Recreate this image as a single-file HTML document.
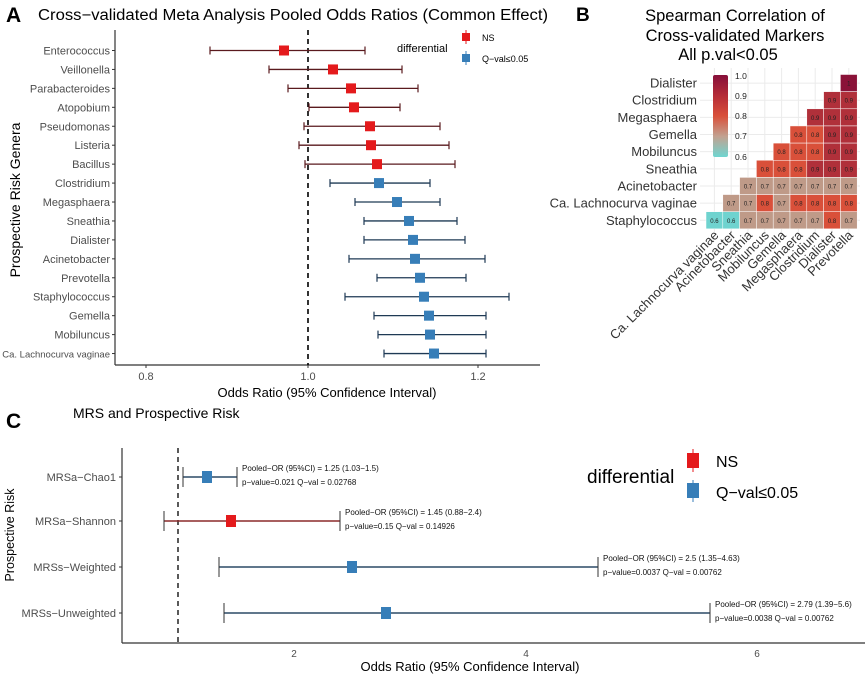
<!DOCTYPE html>
<html><head><meta charset="utf-8"><style>
body{margin:0;background:#fff}
svg{display:block;font-family:"Liberation Sans",Arial,sans-serif}
</style></head><body>
<svg width="865" height="677" viewBox="0 0 865 677" xmlns="http://www.w3.org/2000/svg">
<rect width="865" height="677" fill="#fff"/>
<!-- Panel A -->
<text x="6" y="22" font-size="21" font-weight="bold">A</text>
<text x="38" y="20" font-size="15.5" textLength="510" lengthAdjust="spacingAndGlyphs">Cross−validated Meta Analysis Pooled Odds Ratios (Common Effect)</text>
<text transform="translate(20,200) rotate(-90)" text-anchor="middle" font-size="14">Prospective Risk Genera</text>
<line x1="115" y1="30" x2="115" y2="365" stroke="#333" stroke-width="1.2"/>
<line x1="115" y1="365" x2="540" y2="365" stroke="#333" stroke-width="1.2"/>
<line x1="308" y1="30" x2="308" y2="365" stroke="#000" stroke-width="1.6" stroke-dasharray="5,4"/>
<g font-size="11" fill="#4d4d4d" text-anchor="middle">
<text x="146" y="380">0.8</text><text x="308" y="380">1.0</text><text x="478" y="380">1.2</text>
</g>
<line x1="146" y1="365" x2="146" y2="368" stroke="#333"/><line x1="308" y1="365" x2="308" y2="368" stroke="#333"/><line x1="478" y1="365" x2="478" y2="368" stroke="#333"/>
<text x="327" y="397" text-anchor="middle" font-size="13">Odds Ratio (95% Confidence Interval)</text>
<g id="rowsA"></g>
<!-- legend A -->
<text x="397" y="52" font-size="11">differential</text>
<line x1="466" y1="30" x2="466" y2="44" stroke="#e41a1c"/><rect x="462" y="33" width="8" height="8" fill="#e41a1c"/>
<text x="482" y="41" font-size="9">NS</text>
<line x1="466" y1="51" x2="466" y2="65" stroke="#377eb8"/><rect x="462" y="54" width="8" height="8" fill="#377eb8"/>
<text x="482" y="62" font-size="9">Q−val≤0.05</text>

<!-- Panel B -->
<text x="576" y="21" font-size="19" font-weight="bold">B</text>
<g font-size="16.5" text-anchor="middle"><text x="735" y="21">Spearman Correlation of</text><text x="735" y="41">Cross-validated Markers</text><text x="728" y="60">All p.val&lt;0.05</text></g>
<g id="heat"></g>
<defs><linearGradient id="cb" x1="0" y1="1" x2="0" y2="0">
<stop offset="0" stop-color="#6fd6d1"/><stop offset="0.25" stop-color="#c2a291"/><stop offset="0.5" stop-color="#d9503a"/><stop offset="0.75" stop-color="#b52c38"/><stop offset="1" stop-color="#860f3a"/></linearGradient></defs>
<rect x="713" y="75" width="15" height="82" rx="2" fill="url(#cb)"/>
<g font-size="8.5" fill="#222"><text x="735" y="79">1.0</text><text x="735" y="99">0.9</text><text x="735" y="119">0.8</text><text x="735" y="139">0.7</text><text x="735" y="160">0.6</text></g>

<!-- Panel C -->
<text x="6" y="428" font-size="21" font-weight="bold">C</text>
<text x="73" y="418" font-size="14">MRS and Prospective Risk</text>
<text transform="translate(14,535) rotate(-90)" text-anchor="middle" font-size="12.5">Prospective Risk</text>
<line x1="122" y1="448" x2="122" y2="643" stroke="#333" stroke-width="1.2"/>
<line x1="122" y1="643" x2="865" y2="643" stroke="#333" stroke-width="1.2"/>
<line x1="178" y1="448" x2="178" y2="643" stroke="#000" stroke-width="1.3" stroke-dasharray="5,4"/>
<g font-size="10" fill="#4d4d4d" text-anchor="middle"><text x="294" y="657">2</text><text x="526" y="657">4</text><text x="757" y="657">6</text></g>
<text x="470" y="671" text-anchor="middle" font-size="13">Odds Ratio (95% Confidence Interval)</text>
<g id="rowsC"></g>
<text x="587" y="483" font-size="19">differential</text>
<line x1="693" y1="449" x2="693" y2="472" stroke="#e41a1c"/><rect x="687" y="453" width="12" height="15" fill="#e41a1c"/>
<text x="716" y="467" font-size="16">NS</text>
<line x1="693" y1="480" x2="693" y2="502" stroke="#377eb8"/><rect x="687" y="483" width="12" height="15" fill="#377eb8"/>
<text x="716" y="498" font-size="16">Q−val≤0.05</text>
</svg>
<script>
const NS="http://www.w3.org/2000/svg";
function el(p,t,a,txt){const e=document.createElementNS(NS,t);for(const k in a)e.setAttribute(k,a[k]);if(txt!==undefined)e.textContent=txt;p.appendChild(e);return e;}
const A=[["Enterococcus",210,284,365,0],["Veillonella",269,333,402,0],["Parabacteroides",288,351,418,0],["Atopobium",309,354,400,0],["Pseudomonas",304,370,440,0],["Listeria",299,371,449,0],["Bacillus",305,377,455,0],["Clostridium",330,379,430,1],["Megasphaera",355,397,440,1],["Sneathia",364,409,457,1],["Dialister",364,413,465,1],["Acinetobacter",349,415,485,1],["Prevotella",377,420,466,1],["Staphylococcus",345,424,509,1],["Gemella",374,429,486,1],["Mobiluncus",378,430,486,1],["Ca. Lachnocurva vaginae",384,434,486,1]];
const gA=document.getElementById("rowsA");
A.forEach((r,i)=>{const y=50.5+i*18.94;const lc=r[4]?"#1f3a55":"#5a1a1e",fc=r[4]?"#377eb8":"#e41a1c";
el(gA,"text",{x:110,y:y+4,"text-anchor":"end","font-size":i==16?9.5:11,fill:"#4d4d4d"},r[0]);
el(gA,"line",{x1:112,y1:y,x2:115,y2:y,stroke:"#333"});
el(gA,"line",{x1:r[1],y1:y,x2:r[3],y2:y,stroke:lc,"stroke-width":1.3});
el(gA,"line",{x1:r[1],y1:y-4,x2:r[1],y2:y+4,stroke:lc,"stroke-width":1.2});
el(gA,"line",{x1:r[3],y1:y-4,x2:r[3],y2:y+4,stroke:lc,"stroke-width":1.2});
el(gA,"rect",{x:r[2]-5,y:y-5,width:10,height:10,fill:fc});});
const g=document.getElementById("heat");
const cols=["Ca. Lachnocurva vaginae","Acinetobacter","Sneathia","Mobiluncus","Gemella","Megasphaera","Clostridium","Dialister","Prevotella"];
const rows=["Dialister","Clostridium","Megasphaera","Gemella","Mobiluncus","Sneathia","Acinetobacter","Ca. Lachnocurva vaginae","Staphylococcus"];
const vals=[[1],[0.9,0.9],[0.9,0.9,0.9],[0.8,0.8,0.9,0.9],[0.8,0.8,0.8,0.9,0.9],[0.8,0.8,0.8,0.9,0.9,0.9],[0.7,0.7,0.7,0.7,0.7,0.7,0.7],[0.7,0.7,0.8,0.7,0.8,0.8,0.8,0.8],[0.6,0.6,0.7,0.7,0.7,0.7,0.7,0.8,0.7]];
const col={0.6:"#6fd3cf",0.7:"#bf9a88",0.8:"#d9503a",0.9:"#b0303a",1:"#8a1238"};
const x0=706,cw=16.8,y0=74.5,ch=17.15;
for(let i=0;i<9;i++){el(g,"line",{x1:x0+cw*(i+.5),y1:68,x2:x0+cw*(i+.5),y2:232,stroke:"#ebebeb"});el(g,"line",{x1:700,y1:y0+ch*(i+.5),x2:860,y2:y0+ch*(i+.5),stroke:"#ebebeb"});}
rows.forEach((r,i)=>{const yc=y0+ch*(i+.5);el(g,"text",{x:697,y:yc+4.5,"text-anchor":"end","font-size":13,fill:"#333"},r);
const v=vals[i];v.forEach((val,j)=>{const c=9-v.length+j;const x=x0+cw*c;el(g,"rect",{x:x,y:y0+ch*i,width:cw,height:ch,fill:col[val],stroke:"#fff","stroke-width":0.5});
el(g,"text",{x:x+cw/2,y:yc+2.5,"text-anchor":"middle","font-size":6,fill:"#222"},val==1?"1":val.toFixed(1));});});
cols.forEach((c,i)=>{const xc=x0+cw*(i+.5)+5;el(g,"text",{transform:`translate(${xc},236) rotate(-45)`,"text-anchor":"end","font-size":13,fill:"#333"},c);});
const C=[["MRSa−Chao1",183,207,237,1,477,"Pooled−OR (95%CI) = 1.25 (1.03−1.5)","p−value=0.021 Q−val = 0.02768"],
["MRSa−Shannon",164,231,340,0,521,"Pooled−OR (95%CI) = 1.45 (0.88−2.4)","p−value=0.15 Q−val = 0.14926"],
["MRSs−Weighted",219,352,598,1,567,"Pooled−OR (95%CI) = 2.5 (1.35−4.63)","p−value=0.0037 Q−val = 0.00762"],
["MRSs−Unweighted",224,386,710,1,613,"Pooled−OR (95%CI) = 2.79 (1.39−5.6)","p−value=0.0038 Q−val = 0.00762"]];
const gC=document.getElementById("rowsC");
C.forEach(r=>{const y=r[5];const lc=r[4]?"#2c4a66":"#8b2a2a",fc=r[4]?"#377eb8":"#e41a1c";
el(gC,"text",{x:116,y:y+4,"text-anchor":"end","font-size":11,fill:"#4d4d4d"},r[0]);
el(gC,"line",{x1:119,y1:y,x2:122,y2:y,stroke:"#333"});
el(gC,"line",{x1:r[1],y1:y,x2:r[3],y2:y,stroke:lc,"stroke-width":1.4});
el(gC,"line",{x1:r[1],y1:y-10,x2:r[1],y2:y+10,stroke:"#333","stroke-width":1});
el(gC,"line",{x1:r[3],y1:y-10,x2:r[3],y2:y+10,stroke:"#333","stroke-width":1});
el(gC,"rect",{x:r[2]-5,y:y-6,width:10,height:12,fill:fc});
el(gC,"text",{x:r[3]+5,y:y-6,"font-size":8,fill:"#111"},r[6]);
el(gC,"text",{x:r[3]+5,y:y+8,"font-size":8,fill:"#111"},r[7]);});
</script>
</body></html>
